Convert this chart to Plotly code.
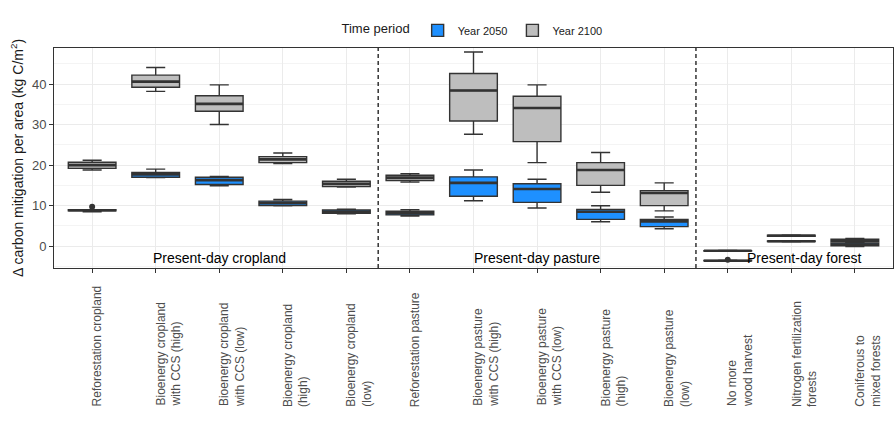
import plotly.graph_objects as go

categories = [
    "Reforestation cropland",
    "Bioenergy cropland<br>with CCS (high)",
    "Bioenergy cropland<br>with CCS (low)",
    "Bioenergy cropland<br>(high)",
    "Bioenergy cropland<br>(low)",
    "Reforestation pasture",
    "Bioenergy pasture<br>with CCS (high)",
    "Bioenergy pasture<br>with CCS (low)",
    "Bioenergy pasture<br>(high)",
    "Bioenergy pasture<br>(low)",
    "No more<br>wood harvest",
    "Nitrogen fertilization<br>forests",
    "Coniferous to<br>mixed forests",
]
group_names = ["Present-day cropland", "Present-day pasture", "Present-day forest"]
group_sizes = [5, 5, 3]

# Year 2050 box statistics
y2050_lower = [8.5, 16.9, 14.9, 9.95, 8.0, 7.4, 11.2, 9.4, 6.0, 4.3, -3.7, 1.05, -0.1]
y2050_q1 = [8.7, 17.0, 15.2, 10.0, 8.1, 7.7, 12.3, 10.8, 6.6, 4.8, -3.65, 1.1, 0.1]
y2050_med = [8.85, 17.7, 16.3, 10.6, 8.5, 8.1, 15.6, 14.1, 8.5, 6.1, -3.6, 1.2, 0.4]
y2050_q3 = [9.0, 18.2, 17.0, 11.1, 8.9, 8.6, 17.1, 15.4, 9.05, 6.6, -3.55, 1.3, 0.8]
y2050_upper = [9.0, 19.0, 17.2, 11.5, 9.1, 9.0, 18.8, 16.5, 9.96, 7.2, -3.5, 1.35, 0.9]
y2050_outlier_cat = [0, 10]
y2050_outlier_val = [9.7, -3.35]

# Year 2100 box statistics
y2100_lower = [18.8, 38.2, 30.0, 20.4, 14.6, 15.8, 27.6, 20.6, 13.3, 8.7, -1.25, 2.4, 0.9]
y2100_q1 = [19.2, 39.2, 33.3, 20.6, 14.7, 16.2, 30.9, 25.8, 15.0, 10.0, -1.2, 2.45, 1.1]
y2100_med = [20.0, 40.6, 35.1, 21.4, 15.4, 16.9, 38.4, 34.1, 18.8, 13.1, -1.15, 2.55, 1.4]
y2100_q3 = [20.7, 42.2, 37.1, 22.1, 16.0, 17.5, 42.6, 37.0, 20.6, 13.7, -1.1, 2.7, 1.7]
y2100_upper = [21.2, 44.1, 39.8, 23.0, 16.5, 17.9, 47.9, 39.8, 23.1, 15.6, -1.05, 2.75, 1.9]

y_ticks = [0, 10, 20, 30, 40]

BOX_W = 0.75
LINE = "#333333"
series = [
    ("Year 2050", "#1E90FF", y2050_lower, y2050_q1, y2050_med, y2050_q3, y2050_upper),
    ("Year 2100", "#BEBEBE", y2100_lower, y2100_q1, y2100_med, y2100_q3, y2100_upper),
]

fig = go.Figure()
positions = list(range(1, len(categories) + 1))

for name, color, lo, q1, med, q3, up in series:
    for i, pos in enumerate(positions):
        fig.add_trace(go.Box(
            x=[pos], q1=[q1[i]], median=[med[i]], q3=[q3[i]],
            lowerfence=[lo[i]], upperfence=[up[i]],
            width=BOX_W, whiskerwidth=0.4,
            fillcolor=color, line=dict(color=LINE, width=1.4),
            name=name, legendgroup=name, showlegend=(i == 0),
            hoverinfo="skip",
        ))
    # thicker median segments
    mx, my = [], []
    for i, pos in enumerate(positions):
        mx += [pos - BOX_W / 2, pos + BOX_W / 2, None]
        my += [med[i], med[i], None]
    fig.add_trace(go.Scatter(x=mx, y=my, mode="lines",
                             line=dict(color=LINE, width=2.6),
                             showlegend=False, hoverinfo="skip"))

fig.add_trace(go.Scatter(
    x=[positions[c] for c in y2050_outlier_cat], y=y2050_outlier_val,
    mode="markers", marker=dict(color=LINE, size=6),
    showlegend=False, hoverinfo="skip"))

# group separators and labels
shapes = []
annotations = []
start = 0
for gi, (gname, gsize) in enumerate(zip(group_names, group_sizes)):
    end = start + gsize
    if gi < len(group_names) - 1:
        shapes.append(dict(type="line", xref="x", yref="paper",
                           x0=end + 0.5, x1=end + 0.5, y0=0, y1=1,
                           line=dict(color="#000000", width=1.2, dash="4px,3px")))
    center = (start + 1 + end) / 2
    if gi == len(group_names) - 1:
        center += 0.2
    annotations.append(dict(x=center, y=-2.9, xref="x", yref="y", text=gname,
                            showarrow=False, font=dict(size=14, color="#000000"),
                            xanchor="center", yanchor="middle"))
    start = end

# category labels (rotated, start-aligned at bottom)
for pos, lab in zip(positions, categories):
    annotations.append(dict(x=pos, y=-0.64, xref="x", yref="paper", text=lab,
                            textangle=-90, showarrow=False, align="left",
                            xanchor="left", yanchor="bottom", xshift=-4,
                            font=dict(size=12, color="#4D4D4D")))

fig.update_layout(
    width=896, height=425,
    margin=dict(l=54, r=3, t=48, b=157),
    plot_bgcolor="white", paper_bgcolor="white",
    font=dict(family="Liberation Sans, Arial, sans-serif", color="#1a1a1a"),
    boxmode="overlay",
    shapes=shapes, annotations=annotations,
    legend=dict(orientation="h", x=0.5, xanchor="center", y=1.08, yanchor="middle",
                title=dict(text="Time period", font=dict(size=13, color="#1a1a1a"), side="left"),
                font=dict(size=11, color="#1a1a1a"), itemwidth=30, bgcolor="rgba(0,0,0,0)"),
)
fig.update_xaxes(range=[0.4, len(categories) + 0.6], tickvals=positions, showticklabels=False,
                 ticks="outside", ticklen=4, tickcolor=LINE, showgrid=True, gridcolor="#EBEBEB",
                 showline=True, linecolor=LINE, linewidth=1, mirror=True, zeroline=False)
fig.update_yaxes(range=[-5.4, 48.9], tickvals=y_ticks, ticks="outside", ticklen=4, tickcolor=LINE,
                 tickfont=dict(size=13, color="#4D4D4D"),
                 showgrid=True, gridcolor="#EBEBEB", zeroline=False,
                 minor=dict(dtick=5, showgrid=True, gridcolor="#F4F4F4", gridwidth=0.6),
                 showline=True, linecolor=LINE, linewidth=1, mirror=True,
                 title=dict(text="Δ carbon mitigation per area (kg C/m<sup>2</sup>)",
                            font=dict(size=14, color="#1a1a1a"), standoff=5))

fig.write_html("out.html")
